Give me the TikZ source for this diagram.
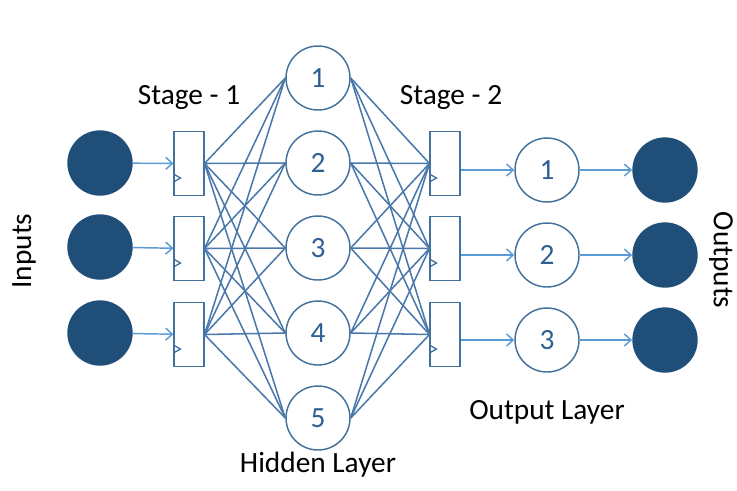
\documentclass[tikz,border=0pt]{standalone}
\usepackage{fontspec}
\setmainfont{Carlito}
\usetikzlibrary{positioning,arrows.meta}

\definecolor{darkblue}{HTML}{1F4E79}
\definecolor{edgeblue}{HTML}{41719C}
\definecolor{linkblue}{HTML}{4A78AA}
\definecolor{arrowblue}{HTML}{5B9BD5}
\definecolor{numblue}{HTML}{2F5F93}

\begin{document}
\begin{tikzpicture}
    [%%%%%%%%%%%%%%%%%%%%%%%%%%%%%%
    x=0.75pt,y=-0.75pt,
    dot/.style={circle,fill=darkblue,minimum size=49pt,inner sep=0pt},
    neuron/.style={circle,draw=edgeblue,line width=1.1pt,fill=white,minimum size=48pt,inner sep=0pt,text=numblue,font=\fontsize{22}{26}\selectfont},
    reg/.style={rectangle,draw=edgeblue,line width=1.3pt,minimum width=22pt,minimum height=48pt,inner sep=0pt},
    link/.style={draw=linkblue,line width=1.15pt},
    feed/.style={draw=arrowblue,line width=1.1pt,-{Straight Barb[length=5pt,width=9pt]}},
    label/.style={font=\fontsize{22}{26}\selectfont},
    ]%%%%%%%%%%%%%%%%%%%%%%%%%%%%%%

    \useasboundingbox (0,0) rectangle (737,490);

    % inputs
    \node[dot] at (100,163) (i1){};
    \node[dot] at (100,247) (i2){};
    \node[dot] at (100,333) (i3){};
    \node[label,rotate=90] at (24,251) (inputs_text) {Inputs};

    % stage 1
    \node[reg] at (189,163.5) (s1a){};
    \node[reg] at (189,248.5) (s1b){};
    \node[reg] at (189,334.5) (s1c){};
    \node[label] at (189,97) (stage1_text) {Stage - 1};

    % hidden layer
    \node[neuron] at (318,78) (h1){1};
    \node[neuron] at (318,163) (h2){2};
    \node[neuron] at (318,248) (h3){3};
    \node[neuron] at (318,333) (h4){4};
    \node[neuron] at (318,418) (h5){5};
    \node[label] at (318,465) (hidden_text) {Hidden Layer};

    % stage 2
    \node[reg] at (445,163.5) (s2a){};
    \node[reg] at (445,248.5) (s2b){};
    \node[reg] at (445,334.5) (s2c){};
    \node[label] at (451,97) (stage2_text) {Stage - 2};

    % output layer
    \node[neuron] at (547,170) (o1){1};
    \node[neuron] at (547,255) (o2){2};
    \node[neuron] at (547,340) (o3){3};
    \node[label] at (547,412) (output_text) {Output Layer};

    % outputs
    \node[dot] at (665,170) (y1){};
    \node[dot] at (665,255) (y2){};
    \node[dot] at (665,340) (y3){};
    \node[label,rotate=-90] at (721,260) (outputs_text) {Outputs};

    % connections
    \foreach \s in {s1a,s1b,s1c}
        \foreach \h in {h1,h2,h3,h4,h5}
            \draw[link] (\s.east) -- (\h.west);
    \foreach \h in {h1,h2,h3,h4,h5}
        \foreach \t in {s2a,s2b,s2c}
            \draw[link] (\h.east) -- (\t.west);

    % clock marks
    \foreach \b in {s1a,s1b,s1c,s2a,s2b,s2c}
        \draw[draw=edgeblue,line width=1pt] (\b.west) ++(0,10.5) -- ++(7,4) -- ++(-7,4);

    % arrows
    \draw[feed] (i1) -- (s1a);
    \draw[feed] (i2) -- (s1b);
    \draw[feed] (i3) -- (s1c);
    \draw[feed] (s2a.east |- o1) -- (o1);
    \draw[feed] (s2b.east |- o2) -- (o2);
    \draw[feed] (s2c.east |- o3) -- (o3);
    \draw[feed] (o1) -- (y1);
    \draw[feed] (o2) -- (y2);
    \draw[feed] (o3) -- (y3);

\end{tikzpicture}
\end{document}
